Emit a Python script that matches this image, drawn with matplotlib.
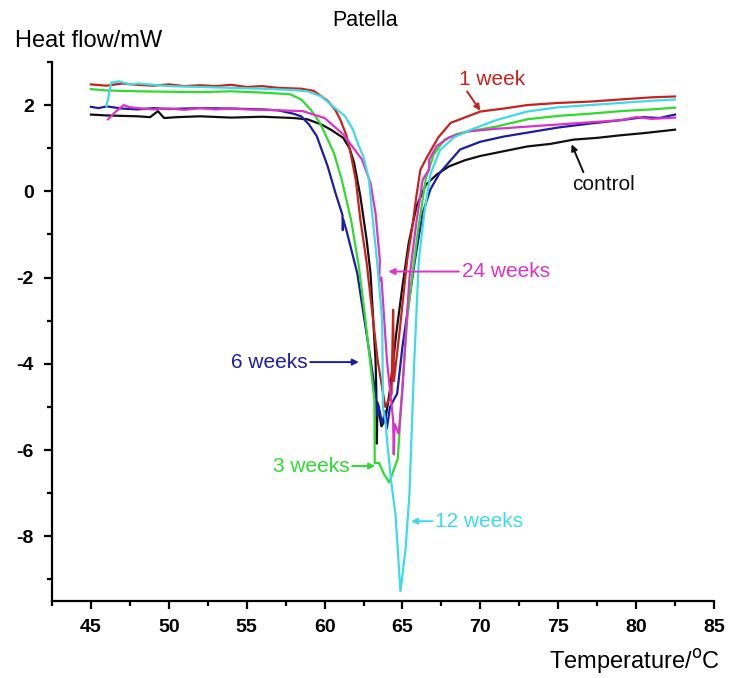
import numpy as np
import matplotlib.pyplot as plt
from matplotlib.ticker import MultipleLocator

plt.rcParams['font.family'] = ['Liberation Sans', 'DejaVu Sans']
plt.rcParams['axes.unicode_minus'] = False

# control
t_ctrl = [45, 46, 47, 48, 48.8, 49.3, 49.7, 50.5, 52, 54, 56, 58, 58.9, 59.8, 60.4, 61.2, 61.6,
          61.9, 62.3, 62.7, 62.95, 63.27, 63.32, 63.35, 63.4, 63.65, 63.9, 64.2, 64.6, 65.0, 65.4,
          65.9, 66.5, 67.2, 68, 69, 70, 71.5, 73, 74.5, 76, 77.5, 79, 80.5, 82.5]
hf_ctrl = [1.78, 1.76, 1.75, 1.74, 1.72, 1.86, 1.70, 1.72, 1.74, 1.71, 1.73, 1.70, 1.67, 1.55,
           1.43, 1.24, 1.0, 0.66, -0.12, -1.12, -1.9, -3.9, -4.6, -5.85, -4.9, -5.45, -5.3, -4.6,
           -3.3, -2.2, -1.2, -0.35, 0.15, 0.39, 0.58, 0.72, 0.82, 0.93, 1.04, 1.1, 1.2, 1.24, 1.3,
           1.35, 1.43]

# 1 week
t_1w = [45, 46, 47, 48, 49, 50, 51, 52, 53, 54, 55, 56, 57, 58.5, 59.3, 60.2, 60.7, 61.0, 61.4,
        61.67, 62.0, 62.3, 62.7, 63.4, 63.9, 64.3, 64.4, 64.45, 64.8, 65.3, 65.6, 65.9, 66.15,
        66.6, 67.3, 68.1, 68.7, 70, 71.5, 73, 75, 77, 79, 81, 82.5]
hf_1w = [2.48, 2.45, 2.5, 2.47, 2.45, 2.48, 2.44, 2.46, 2.44, 2.47, 2.42, 2.44, 2.40, 2.38, 2.33,
         2.1, 1.88, 1.67, 1.3, 0.89, 0.27, -0.66, -1.65, -3.9, -5.0, -4.7, -2.75, -4.4, -3.3,
         -1.6, -0.9, -0.1, 0.5, 0.81, 1.25, 1.59, 1.67, 1.85, 1.92, 2.0, 2.05, 2.08, 2.13, 2.18,
         2.2]

# 3 weeks
t_3w = [45, 46, 47, 48, 50, 52, 54, 56, 57.8, 58.5, 59.1, 59.7, 60.6, 61.1, 61.7, 62.2, 62.6,
        63.0, 63.2, 63.22, 63.5, 63.8, 64.15, 64.7, 65.0, 65.3, 65.6, 66.0, 66.5, 67.0, 67.7,
        68.5, 69.4, 71, 73, 75, 77, 79, 81, 82.5]
hf_3w = [2.37, 2.34, 2.33, 2.32, 2.31, 2.30, 2.32, 2.29, 2.25, 2.13, 1.9, 1.59, 0.89, 0.27,
         -0.66, -1.74, -2.9, -4.2, -4.84, -6.3, -6.3, -6.55, -6.75, -6.2, -4.5, -3.0, -2.05,
         -0.9, 0.3, 0.85, 1.2, 1.33, 1.4, 1.5, 1.67, 1.75, 1.8, 1.86, 1.9, 1.94]

# 6 weeks
t_6w = [45, 45.5, 46, 47, 48, 49, 50, 52, 54, 56, 57, 58, 58.5, 59.0, 59.5, 60.2, 60.7, 61.15,
        61.17, 61.2, 61.45, 62.1, 62.95, 63.27, 63.4, 63.45, 63.7, 63.9, 64.0, 64.2, 64.66, 65.0,
        65.4, 65.8, 66.3, 66.8, 67.4, 68.7, 70, 71.5, 73, 75, 77, 79, 80.5, 81.5, 82.5]
hf_6w = [1.96, 1.93, 1.97, 1.92, 1.90, 1.93, 1.91, 1.93, 1.92, 1.90, 1.88, 1.80, 1.74, 1.55,
         1.28, 0.58, -0.04, -0.55, -0.9, -0.65, -0.97, -1.9, -3.9, -4.69, -5.2, -4.95, -5.38,
         -5.1, -5.5, -5.0, -4.69, -3.6, -2.6, -1.6, -0.5, 0.05, 0.43, 0.97, 1.15, 1.27, 1.36,
         1.48, 1.57, 1.65, 1.72, 1.70, 1.78]

# 12 weeks
t_12w = [46.0, 46.3, 46.8, 47.5, 48, 49, 50, 52, 54, 56, 58, 58.9, 59.8, 60.6, 61.3, 61.8, 62.2,
         62.5, 62.85, 63.05, 63.4, 63.7, 63.75, 63.9, 64.05, 64.3, 64.55, 64.87, 65.2, 65.45,
         65.6, 65.75, 65.9, 66.05, 66.4, 66.8, 67.4, 68.3, 69.4, 71, 73, 75, 77, 79, 81, 82.5]
hf_12w = [1.97, 2.52, 2.55, 2.48, 2.5, 2.47, 2.44, 2.42, 2.40, 2.38, 2.35, 2.32, 2.2, 1.95, 1.75,
          1.45, 1.05, 0.8, 0.27, -0.5, -1.74, -3.0, -5.03, -5.3, -5.93, -6.8, -7.48, -9.27, -8.3,
          -7.0, -5.5, -4.0, -2.8, -1.6, -0.5, 0.4, 0.95, 1.25, 1.43, 1.65, 1.85, 1.95, 2.0, 2.05,
          2.1, 2.13]

# 24 weeks
t_24w = [46.1, 46.6, 47.1, 47.5, 48, 49, 50, 51, 52, 53, 54, 55, 56, 57, 58.6, 60.0, 61.2, 62.4,
         62.95, 63.27, 63.55, 63.5, 63.65, 64.0, 64.4, 64.44, 64.5, 64.76, 65.0, 65.2, 65.45, 65.9,
         66.3, 66.7, 66.72, 67.2, 68, 69.2, 71, 73, 75, 77, 79, 80, 81, 82.5]
hf_24w = [1.67, 1.85, 2.0, 1.95, 1.93, 1.90, 1.92, 1.89, 1.93, 1.90, 1.92, 1.90, 1.89, 1.88, 1.86,
          1.7, 1.32, 0.74, 0.19, -0.5, -1.6, -2.1, -2.0, -3.9, -5.3, -6.1, -5.4, -5.62, -4.6,
          -3.4, -2.0, -0.7, 0.27, 0.5, 0.74, 1.05, 1.25, 1.39, 1.45, 1.5, 1.55, 1.6, 1.65, 1.72,
          1.68, 1.71]

c_ctrl = '#111111'
c_1w = '#c8221c'
c_3w = '#2edc2e'
c_6w = '#1c1ca8'
c_12w = '#3cdce6'
c_24w = '#dc32c8'

fig = plt.figure(figsize=(7.29, 6.78), dpi=100)
ax = fig.add_axes([0.0713, 0.1136, 0.9081, 0.795])

lw = 1.6
ax.plot(t_ctrl, hf_ctrl, color=c_ctrl, lw=lw)
ax.plot(t_1w, hf_1w, color=c_1w, lw=lw)
ax.plot(t_6w, hf_6w, color=c_6w, lw=lw)
ax.plot(t_3w, hf_3w, color=c_3w, lw=lw)
ax.plot(t_24w, hf_24w, color=c_24w, lw=lw)
ax.plot(t_12w, hf_12w, color=c_12w, lw=lw)

ax.set_xlim(42.5, 85)
ax.set_ylim(-9.5, 3)
ax.xaxis.set_major_locator(MultipleLocator(5))
ax.xaxis.set_minor_locator(MultipleLocator(2.5))
ax.yaxis.set_major_locator(MultipleLocator(2))
ax.yaxis.set_minor_locator(MultipleLocator(1))
for s in ['top', 'right']:
    ax.spines[s].set_visible(False)
for s in ['left', 'bottom']:
    ax.spines[s].set_linewidth(1.6)
ax.tick_params(which='major', direction='out', length=6, width=1.6, labelsize=14, pad=7)
ax.tick_params(which='minor', direction='out', length=3.5, width=1.6)
for lab in ax.get_xticklabels() + ax.get_yticklabels():
    lab.set_fontweight('bold')

arr = dict(arrowstyle='-|>', lw=1.4, mutation_scale=9, shrinkA=0, shrinkB=0)
fs = 15
ax.annotate('1 week', xy=(70.0, 1.87), xytext=(68.6, 2.6), color=c_1w, fontsize=fs,
            ha='left', va='center', arrowprops=dict(arr, color=c_1w, relpos=(0.1, 0.0)))
ax.annotate('control', xy=(75.86, 1.09), xytext=(77.9, 0.16), color=c_ctrl, fontsize=fs,
            ha='center', va='center', arrowprops=dict(arr, color=c_ctrl, relpos=(0.2, 1.0)))
ax.annotate('24 weeks', xy=(64.1, -1.86), xytext=(68.8, -1.86), color=c_24w, fontsize=fs,
            ha='left', va='center', arrowprops=dict(arr, color=c_24w, relpos=(0.0, 0.5)))
ax.annotate('6 weeks', xy=(62.2, -3.96), xytext=(58.9, -3.96), color=c_6w, fontsize=fs,
            ha='right', va='center', arrowprops=dict(arr, color=c_6w, relpos=(1.0, 0.5)))
ax.annotate('3 weeks', xy=(63.25, -6.37), xytext=(61.6, -6.37), color=c_3w, fontsize=fs,
            ha='right', va='center', arrowprops=dict(arr, color=c_3w, relpos=(1.0, 0.5)))
ax.annotate('12 weeks', xy=(65.55, -7.65), xytext=(67.1, -7.65), color=c_12w, fontsize=fs,
            ha='left', va='center', arrowprops=dict(arr, color=c_12w, relpos=(0.0, 0.5)))

fig.text(0.5007, 0.9705, 'Patella', ha='center', va='center', fontsize=15.5)
fig.text(0.0206, 0.9395, 'Heat flow/mW', ha='left', va='center', fontsize=17)
fig.text(0.9877, 0.0236, 'Temperature/$^{\\mathrm{o}}$C', ha='right', va='center', fontsize=17)

fig.savefig('out.png', dpi=100)
